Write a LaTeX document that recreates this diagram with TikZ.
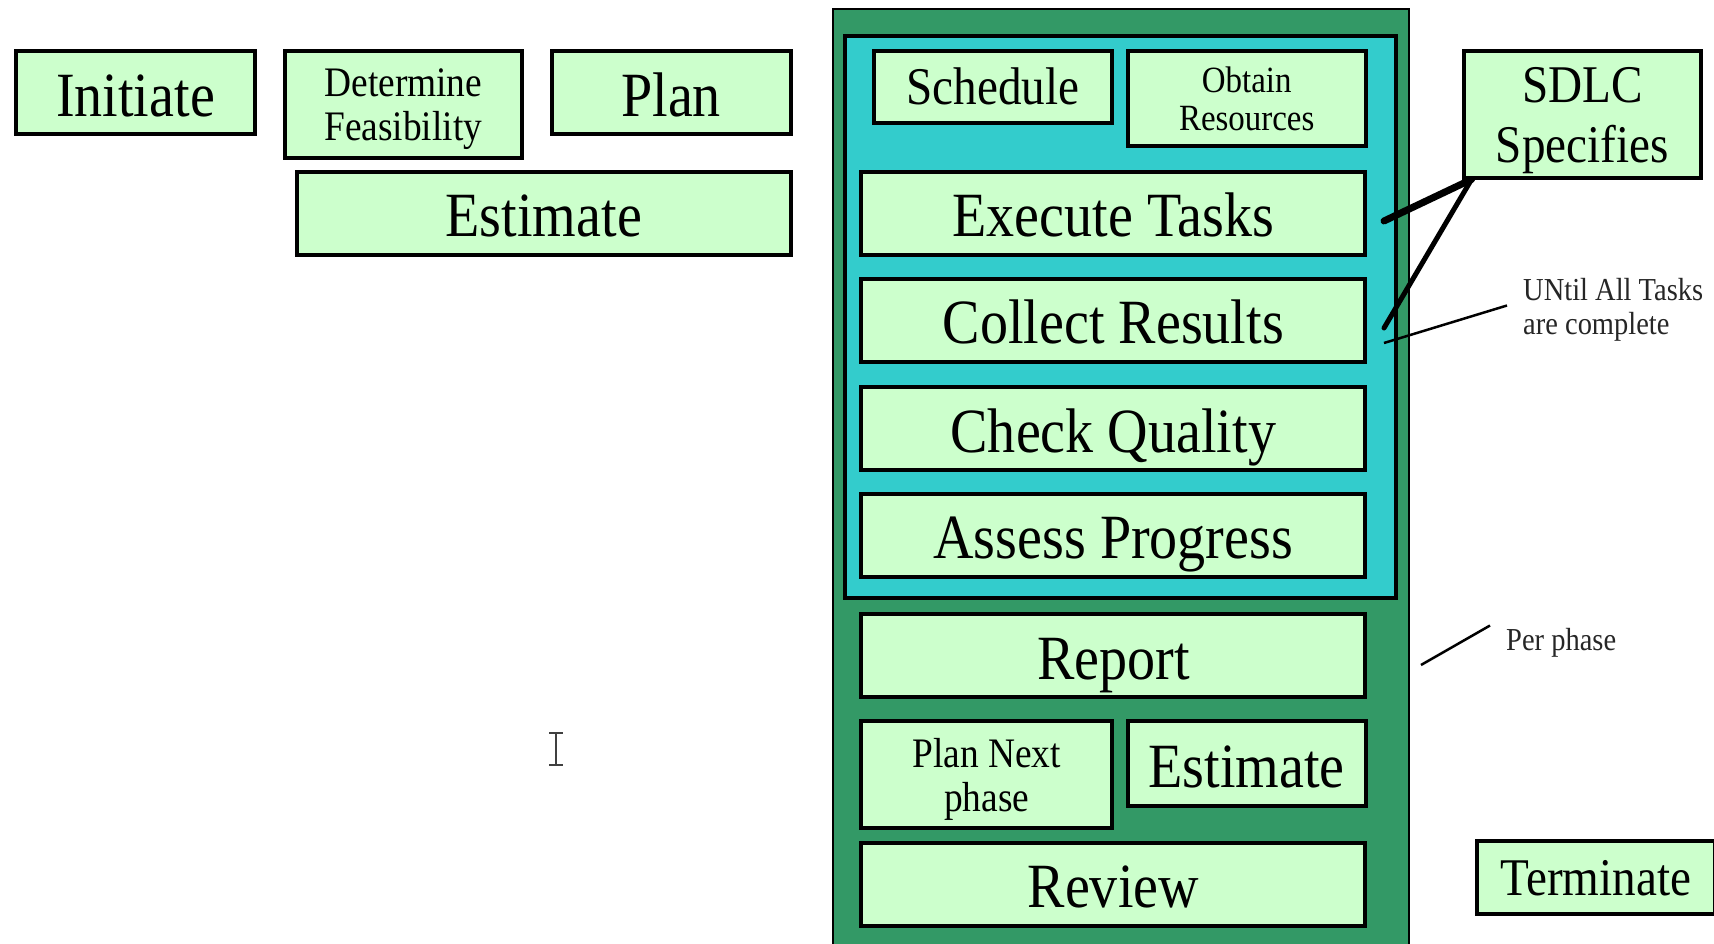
\documentclass[tikz,border=0pt]{standalone}
\usepackage{fontspec}
\setmainfont{Liberation Serif}[FakeStretch=0.89]
\definecolor{boxgreen}{HTML}{CCFFCC}
\definecolor{phasegreen}{HTML}{339966}
\definecolor{taskcyan}{HTML}{33CCCC}

\begin{document}
\begin{tikzpicture}[x=1pt, y=-1pt,
    box/.style={draw, line width=4pt, fill=boxgreen, inner sep=0pt, align=center},
    bigbox/.style={box, font=\fontsize{63}{66}\selectfont, text height=60pt, text depth=13pt, minimum height=83pt},
    midbox/.style={box, font=\fontsize{53}{60}\selectfont},
    twobox/.style={box, font=\fontsize{42}{44}\selectfont},
    note/.style={inner xsep=16pt, inner ysep=2pt, anchor=west, align=left, text=black!85, font=\fontsize{32}{34}\selectfont}]
    \useasboundingbox (0,0) rectangle (1714,944);

    % 外枠
    \draw[line width=2.5pt, fill=phasegreen] (833,9) rectangle (1409,960);
    \draw[line width=3.5pt, fill=taskcyan] (845,36) rectangle (1396,598);

    % 左側
    \node[bigbox, minimum width=239pt] (I) at (135.5,92.9) {Initiate};
    \node[twobox, minimum width=236.5pt, minimum height=106.4pt, text depth=-4pt] (DF) at (403.3,104.4) {Determine\\Feasibility};
    \node[bigbox, minimum width=239pt] (P) at (671.1,92.9) {Plan};
    \node[bigbox, minimum width=493.4pt] (E1) at (543.8,213.1) {Estimate};

    % フェーズ内
    \node[midbox, minimum width=237.6pt, minimum height=71.4pt, text height=48pt, text depth=13pt] (S) at (993.1,86.9) {Schedule};
    \node[box, font=\fontsize{37}{38}\selectfont, minimum width=237.6pt, minimum height=94.4pt] (OR) at (1246.7,98.4) {Obtain\\Resources};
    \node[bigbox, minimum width=504.3pt] (ET) at (1113.3,213.1) {Execute Tasks};
    \node[bigbox, minimum width=504.3pt] (CR) at (1113.3,320.3) {Collect Results};
    \node[bigbox, minimum width=504.3pt] (CQ) at (1113.3,428.5) {Check Quality};
    \node[bigbox, minimum width=504.3pt] (AP) at (1113.3,535.1) {Assess Progress};
    \node[bigbox, minimum width=504.3pt] (R) at (1113.3,655.9) {Report};
    \node[twobox, minimum width=250.7pt, minimum height=106.4pt, text depth=-2pt] (PN) at (986.6,774.5) {Plan Next\\phase};
    \node[bigbox, minimum width=237.6pt, minimum height=84.5pt] (E2) at (1246.7,763.5) {Estimate};
    \node[bigbox, minimum width=504.3pt] (RV) at (1113.3,884.3) {Review};

    % 右側
    \node[midbox, minimum width=237.5pt, minimum height=127.2pt, text depth=-5pt] (SD) at (1582.3,114.8) {SDLC\\Specifies};
    \node[midbox, minimum width=238pt, minimum height=72.5pt, text height=48pt, text depth=13pt] (T) at (1596,877.7) {Terminate};
    \node[note] (U) at (1507,309.5) {UNtil All Tasks\\are complete};
    \node[note] (PP) at (1490,642.5) {Per phase};

    % 線
    \coordinate (ETend) at (1384,221);
    \coordinate (CRend) at (1384,328);
    \coordinate (Uend) at (1384,343);
    \coordinate (PPend) at (1421,665);
    \draw[line width=7pt, line cap=round] ([xshift=10pt,yshift=1pt]SD.south west) -- (ETend);
    \draw[line width=5pt, line cap=round] ([xshift=10pt,yshift=1pt]SD.south west) -- (CRend);
    \draw[line width=2.5pt] ([yshift=4pt]U.west) -- (Uend);
    \draw[line width=2.5pt] ([yshift=17pt]PP.west) -- (PPend);

    % カーソル
    \draw[line width=2pt, black!75] (549,733) -- (563,733) (556,733) -- (556,765) (549,765) -- (563,765);
\end{tikzpicture}
\end{document}
